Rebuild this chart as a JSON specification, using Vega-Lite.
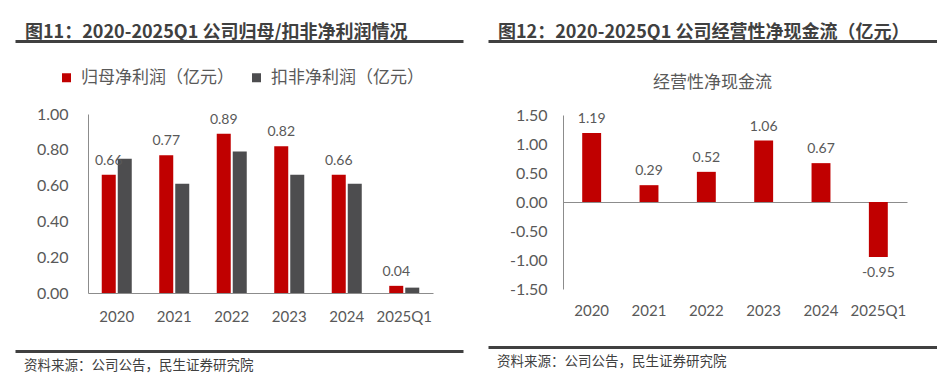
{
  "$schema": "https://vega.github.io/schema/vega-lite/v6.json",
  "padding": {"left": 15, "top": 0, "right": 0, "bottom": 0},
  "spacing": 25,
  "datasets": {
    "profit": [
      {"year": "2020", "series": "归母净利润（亿元）", "value": 0.66},
      {"year": "2020", "series": "扣非净利润（亿元）", "value": 0.75},
      {"year": "2021", "series": "归母净利润（亿元）", "value": 0.77},
      {"year": "2021", "series": "扣非净利润（亿元）", "value": 0.61},
      {"year": "2022", "series": "归母净利润（亿元）", "value": 0.89},
      {"year": "2022", "series": "扣非净利润（亿元）", "value": 0.79},
      {"year": "2023", "series": "归母净利润（亿元）", "value": 0.82},
      {"year": "2023", "series": "扣非净利润（亿元）", "value": 0.66},
      {"year": "2024", "series": "归母净利润（亿元）", "value": 0.66},
      {"year": "2024", "series": "扣非净利润（亿元）", "value": 0.61},
      {"year": "2025Q1", "series": "归母净利润（亿元）", "value": 0.04},
      {"year": "2025Q1", "series": "扣非净利润（亿元）", "value": 0.03}
    ],
    "cash": [
      {"year": "2020", "value": 1.19},
      {"year": "2021", "value": 0.29},
      {"year": "2022", "value": 0.52},
      {"year": "2023", "value": 1.06},
      {"year": "2024", "value": 0.67},
      {"year": "2025Q1", "value": -0.95}
    ],
    "titleL": [{"t": "图11：2020-2025Q1 公司归母/扣非净利润情况"}],
    "titleR": [{"t": "图12：2020-2025Q1 公司经营性净现金流（亿元）"}],
    "source": [{"t": "资料来源：公司公告，民生证券研究院"}]
  },
  "hconcat": [
    {
      "spacing": 0,
      "vconcat": [
        {
          "width": 448, "height": 106,
          "data": {"name": "titleL"},
          "mark": {"type": "text", "align": "left", "baseline": "middle", "dx": 10, "font": "Noto Sans CJK SC", "fontSize": 18, "fontWeight": "bold", "color": "#404040"},
          "encoding": {
            "text": {"field": "t"},
            "x": {"datum": 0, "type": "quantitative", "scale": {"domain": [0, 1]}, "axis": {"orient": "bottom", "offset": -65, "labels": false, "ticks": false, "title": null, "domainColor": "#404040", "domainWidth": 3}},
            "y": {"datum": 0.6887, "type": "quantitative", "scale": {"domain": [0, 1]}, "axis": null}
          }
        },
        {
          "width": 448, "height": 179,
          "data": {"name": "profit"},
          "layer": [
            {
              "mark": {"type": "bar"},
              "encoding": {
                "x": {"field": "year", "type": "nominal", "sort": null, "scale": {"range": [73, 418], "paddingInner": 0.478, "paddingOuter": 0.239},
                      "axis": {"labelAngle": 0, "labelPadding": 16, "labelFontSize": 15, "domainColor": "#8C8C8C", "domainWidth": 1}},
                "xOffset": {"field": "series", "sort": ["归母净利润（亿元）", "扣非净利润（亿元）"], "scale": {"paddingInner": 0.125}},
                "y": {"field": "value", "type": "quantitative", "scale": {"domain": [0, 1], "nice": false},
                      "axis": {"values": [0, 0.2, 0.4, 0.6, 0.8, 1.0], "format": ".2f", "offset": -73, "labelPadding": 20, "labelFontSize": 16, "labelOverlap": false, "domainColor": "#8C8C8C", "domainWidth": 1}},
                "color": {"field": "series", "type": "nominal", "scale": {"domain": ["归母净利润（亿元）", "扣非净利润（亿元）"], "range": ["#C00000", "#4D4D4F"]},
                          "legend": {"orient": "none", "legendX": 43, "legendY": 69, "direction": "horizontal", "title": null, "symbolType": "square", "symbolSize": 81, "symbolStrokeWidth": 0, "labelFont": "Noto Sans CJK SC", "labelFontSize": 17, "labelColor": "#595959", "labelOffset": 6, "columnPadding": 14, "labelLimit": 300}}
              }
            },
            {
              "transform": [{"filter": "datum.series == '归母净利润（亿元）'"}],
              "mark": {"type": "text", "baseline": "bottom", "dy": -7, "font": "Lato", "fontSize": 14, "color": "#595959"},
              "encoding": {
                "x": {"field": "year", "type": "nominal", "sort": null},
                "xOffset": {"field": "series", "sort": ["归母净利润（亿元）", "扣非净利润（亿元）"]},
                "y": {"field": "value", "type": "quantitative", "axis": {"values": [0, 0.2, 0.4, 0.6, 0.8, 1.0], "format": ".2f", "offset": -73, "labelPadding": 20, "labelFontSize": 16, "labelOverlap": false, "domainColor": "#8C8C8C", "domainWidth": 1}},
                "text": {"field": "value", "type": "quantitative", "format": ".2f"}
              }
            }
          ]
        },
        {
          "width": 448, "height": 45,
          "data": {"name": "source"},
          "mark": {"type": "text", "align": "left", "baseline": "middle", "dx": 9, "font": "Noto Sans CJK SC", "fontSize": 13.5, "color": "#404040"},
          "encoding": {
            "text": {"field": "t"},
            "x": {"datum": 0, "type": "quantitative", "scale": {"domain": [0, 1]}, "axis": {"orient": "top", "offset": -27, "labels": false, "ticks": false, "title": null, "domainColor": "#404040", "domainWidth": 3}},
            "y": {"datum": 0.067, "type": "quantitative", "scale": {"domain": [0, 1]}, "axis": null}
          }
        }
      ]
    },
    {
      "spacing": 0,
      "vconcat": [
        {
          "width": 449, "height": 74,
          "data": {"name": "titleR"},
          "mark": {"type": "text", "align": "left", "baseline": "middle", "dx": 10, "font": "Noto Sans CJK SC", "fontSize": 18, "fontWeight": "bold", "color": "#404040"},
          "encoding": {
            "text": {"field": "t"},
            "x": {"datum": 0, "type": "quantitative", "scale": {"domain": [0, 1]}, "axis": {"orient": "bottom", "offset": -33, "labels": false, "ticks": false, "title": null, "domainColor": "#404040", "domainWidth": 3}},
            "y": {"datum": 0.554, "type": "quantitative", "scale": {"domain": [0, 1]}, "axis": null}
          }
        },
        {
          "width": 449, "height": 174,
          "title": {"text": "经营性净现金流", "font": "Noto Sans CJK SC", "fontSize": 17, "fontWeight": "normal", "color": "#595959", "anchor": "middle", "offset": 15},
          "data": {"name": "cash"},
          "layer": [
            {
              "mark": {"type": "bar", "color": "#C00000"},
              "encoding": {
                "x": {"field": "year", "type": "nominal", "sort": null, "scale": {"range": [75, 419], "paddingInner": 0.67, "paddingOuter": 0.335},
                      "axis": {"labelAngle": 0, "offset": -87, "labelPadding": 101, "labelFontSize": 15, "domainColor": "#8C8C8C", "domainWidth": 1}},
                "y": {"field": "value", "type": "quantitative", "scale": {"domain": [-1.5, 1.5], "nice": false},
                      "axis": {"values": [-1.5, -1, -0.5, 0, 0.5, 1, 1.5], "format": ".2f", "offset": -75, "labelPadding": 16, "labelFontSize": 16, "labelOverlap": false, "domainColor": "#8C8C8C", "domainWidth": 1}}
              }
            },
            {
              "transform": [{"filter": "datum.value >= 0"}],
              "mark": {"type": "text", "baseline": "bottom", "dy": -7, "font": "Lato", "fontSize": 14, "color": "#595959"},
              "encoding": {
                "x": {"field": "year", "type": "nominal", "sort": null},
                "y": {"field": "value", "type": "quantitative", "axis": {"values": [-1.5, -1, -0.5, 0, 0.5, 1, 1.5], "format": ".2f", "offset": -75, "labelPadding": 16, "labelFontSize": 16, "labelOverlap": false, "domainColor": "#8C8C8C", "domainWidth": 1}},
                "text": {"field": "value", "type": "quantitative", "format": ".2f"}
              }
            },
            {
              "transform": [{"filter": "datum.value < 0"}],
              "mark": {"type": "text", "baseline": "top", "dy": 9, "font": "Lato", "fontSize": 14, "color": "#595959"},
              "encoding": {
                "x": {"field": "year", "type": "nominal", "sort": null},
                "y": {"field": "value", "type": "quantitative", "axis": {"values": [-1.5, -1, -0.5, 0, 0.5, 1, 1.5], "format": ".2f", "offset": -75, "labelPadding": 16, "labelFontSize": 16, "labelOverlap": false, "domainColor": "#8C8C8C", "domainWidth": 1}},
                "text": {"field": "value", "type": "quantitative", "format": ".2f"}
              }
            }
          ]
        },
        {
          "width": 449, "height": 45,
          "data": {"name": "source"},
          "mark": {"type": "text", "align": "left", "baseline": "middle", "dx": 9, "font": "Noto Sans CJK SC", "fontSize": 13.5, "color": "#404040"},
          "encoding": {
            "text": {"field": "t"},
            "x": {"datum": 0, "type": "quantitative", "scale": {"domain": [0, 1]}, "axis": {"orient": "top", "offset": -29, "labels": false, "ticks": false, "title": null, "domainColor": "#404040", "domainWidth": 3}},
            "y": {"datum": 0.022, "type": "quantitative", "scale": {"domain": [0, 1]}, "axis": null}
          }
        }
      ]
    }
  ],
  "config": {
    "view": {"stroke": null},
    "axis": {"grid": false, "ticks": false, "title": null, "labelFont": "Lato", "labelColor": "#595959"},
    "axisY": {"labelOverlap": false, "labelFontSize": 16},
    "locale": {"number": {"decimal": ".", "thousands": ",", "grouping": [3], "currency": ["", ""], "minus": "-"}}
  }
}
